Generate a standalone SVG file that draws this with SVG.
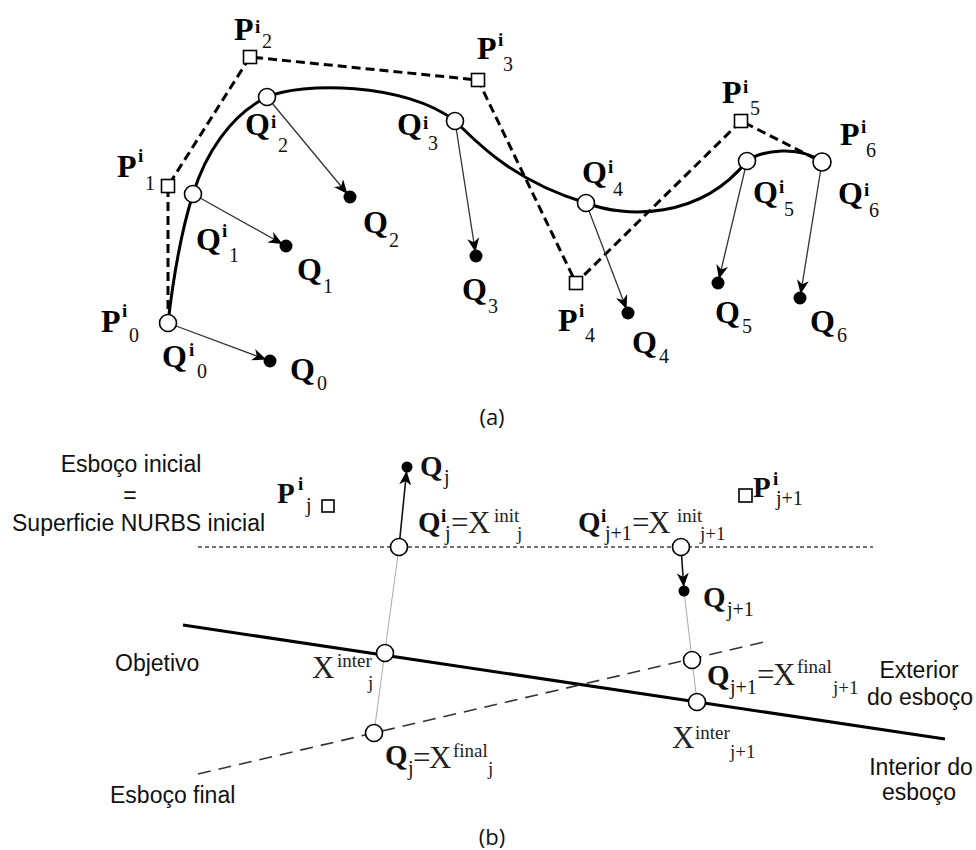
<svg xmlns="http://www.w3.org/2000/svg" width="976" height="850" viewBox="0 0 976 850">
<style>
.poly{fill:none;stroke:#000;stroke-width:3;stroke-dasharray:9 5}
.curve{fill:none;stroke:#000;stroke-width:3}
.arr{stroke:#333;stroke-width:1.3;fill:none;marker-end:url(#ah)}
.arrb{stroke:#111;stroke-width:1.6;fill:none;marker-end:url(#ah)}
.pt{fill:#fff;stroke:#000;stroke-width:1.6}
.sq{fill:#fff;stroke:#000;stroke-width:1.6}
.dot{fill:#000}
.B{font-family:"Liberation Serif","Times New Roman",serif;font-weight:bold;font-size:32px;fill:#000}
.Bb{font-family:"Liberation Serif","Times New Roman",serif;font-weight:bold;font-size:29px;fill:#111}
.sup{font-family:"Liberation Serif","Times New Roman",serif;font-weight:bold;font-size:19px;fill:#000}
.sub{font-family:"Liberation Serif","Times New Roman",serif;font-size:20px;fill:#111}
.R{font-family:"Liberation Serif","Times New Roman",serif;font-size:31px;fill:#222}
.rs{font-family:"Liberation Serif","Times New Roman",serif;font-size:19px;fill:#222}
.S{font-family:"Liberation Sans",Arial,sans-serif;font-size:23px;fill:#111}
.cap{font-family:"Open Sans","Liberation Sans",sans-serif;font-size:22px;fill:#111}
.guide{stroke:#aaa;stroke-width:1;fill:none}
.hdash{stroke:#444;stroke-width:1.3;stroke-dasharray:4 3;fill:none}
.fdash{stroke:#333;stroke-width:1.6;stroke-dasharray:13 8;fill:none}
.obj{stroke:#000;stroke-width:3;fill:none}
</style>
<defs>
<marker id="ah" markerUnits="userSpaceOnUse" markerWidth="16" markerHeight="12" viewBox="0 0 16 12" refX="18" refY="6" orient="auto">
<path d="M0,0 L14,6 L0,12 L4,6 z" fill="#000"/>
</marker>
</defs>
<rect x="0" y="0" width="976" height="850" fill="#fff"/>

<g id="connectors">
  <polyline class="poly" points="168,323 168,186 250,57 478,80 576,283 741,121 822,162"/>
  <path class="curve" d="M168,323 C173,280 180,235 193,194 C205,155 230,115 267,97 C300,82 405,82 455,121 C475,140 510,180 586,203 C625,218 700,220 747,161 C762,150 800,145 822,162"/>
  <line class="arr" x1="168" y1="323" x2="270" y2="361"/>
  <line class="arr" x1="193" y1="194" x2="286" y2="246"/>
  <line class="arr" x1="267" y1="97" x2="350" y2="197"/>
  <line class="arr" x1="455" y1="121" x2="476" y2="256"/>
  <line class="arr" x1="586" y1="203" x2="628" y2="313"/>
  <line class="arr" x1="747" y1="161" x2="718" y2="283"/>
  <line class="arr" x1="822" y1="162" x2="800" y2="298"/>
  <line class="hdash" x1="198" y1="547" x2="873" y2="547"/>
  <line class="obj" x1="183" y1="625" x2="945" y2="739"/>
  <line class="fdash" x1="198" y1="774" x2="768" y2="641"/>
  <line class="guide" x1="399" y1="547" x2="374" y2="733"/>
  <line class="guide" x1="684" y1="591" x2="697" y2="702"/>
  <line class="arrb" x1="399" y1="547" x2="407" y2="467"/>
  <line class="arrb" x1="681" y1="547" x2="684" y2="591"/>
</g>

<g id="P0">
  <circle class="pt" cx="168" cy="323" r="8.5"/>
  <text class="B" x="101" y="332">P</text><text class="sup" x="122" y="317">i</text><text class="sub" x="129" y="342">0</text>
  <text class="B" x="162" y="367">Q</text><text class="sup" x="189" y="356">i</text><text class="sub" x="197" y="378">0</text>
</g>
<g id="P1">
  <rect class="sq" x="161.5" y="179.5" width="13" height="13"/>
  <text class="B" x="117" y="177">P</text><text class="sup" x="138" y="162">i</text><text class="sub" x="145" y="190">1</text>
</g>
<g id="P2">
  <rect class="sq" x="243.5" y="50.5" width="13" height="13"/>
  <text class="B" x="234" y="40">P</text><text class="sup" x="255" y="33">i</text><text class="sub" x="262" y="48">2</text>
</g>
<g id="P3">
  <rect class="sq" x="471.5" y="73.5" width="13" height="13"/>
  <text class="B" x="477" y="59">P</text><text class="sup" x="498" y="46">i</text><text class="sub" x="503" y="71">3</text>
</g>
<g id="P4">
  <rect class="sq" x="569.5" y="276.5" width="13" height="13"/>
  <text class="B" x="558" y="331">P</text><text class="sup" x="579" y="317">i</text><text class="sub" x="585" y="342">4</text>
</g>
<g id="P5">
  <rect class="sq" x="734.5" y="114.5" width="13" height="13"/>
  <text class="B" x="722" y="103">P</text><text class="sup" x="743" y="93">i</text><text class="sub" x="750" y="115">5</text>
</g>
<g id="Qi1">
  <circle class="pt" cx="193" cy="194" r="8.5"/>
  <text class="B" x="196" y="250">Q</text><text class="sup" x="222" y="237">i</text><text class="sub" x="229" y="262">1</text>
</g>
<g id="Qi2">
  <circle class="pt" cx="267" cy="97" r="8.5"/>
  <text class="B" x="245" y="135">Q</text><text class="sup" x="271" y="128">i</text><text class="sub" x="278" y="152">2</text>
</g>
<g id="Qi3">
  <circle class="pt" cx="455" cy="121" r="8.5"/>
  <text class="B" x="397" y="135">Q</text><text class="sup" x="423" y="129">i</text><text class="sub" x="428" y="150">3</text>
</g>
<g id="Qi4">
  <circle class="pt" cx="586" cy="203" r="8.5"/>
  <text class="B" x="582" y="183">Q</text><text class="sup" x="608" y="173">i</text><text class="sub" x="613" y="196">4</text>
</g>
<g id="Qi5">
  <circle class="pt" cx="747" cy="161" r="8.5"/>
  <text class="B" x="753" y="203">Q</text><text class="sup" x="779" y="193">i</text><text class="sub" x="784" y="216">5</text>
</g>
<g id="Qi6">
  <circle class="pt" cx="822" cy="162" r="9"/>
  <text class="B" x="840" y="145">P</text><text class="sup" x="861" y="133">i</text><text class="sub" x="866" y="157">6</text>
  <text class="B" x="838" y="204">Q</text><text class="sup" x="864" y="196">i</text><text class="sub" x="869" y="217">6</text>
</g>
<g id="Q0"><circle class="dot" cx="270" cy="361" r="6.5"/><text class="B" x="290" y="380">Q</text><text class="sub" x="317" y="390">0</text></g>
<g id="Q1"><circle class="dot" cx="286" cy="246" r="6.5"/><text class="B" x="297" y="280">Q</text><text class="sub" x="323" y="293">1</text></g>
<g id="Q2"><circle class="dot" cx="350" cy="197" r="6.5"/><text class="B" x="363" y="233">Q</text><text class="sub" x="389" y="247">2</text></g>
<g id="Q3"><circle class="dot" cx="476" cy="256" r="6.5"/><text class="B" x="462" y="300">Q</text><text class="sub" x="488" y="313">3</text></g>
<g id="Q4"><circle class="dot" cx="628" cy="313" r="6.5"/><text class="B" x="632" y="353">Q</text><text class="sub" x="659" y="363">4</text></g>
<g id="Q5"><circle class="dot" cx="718" cy="283" r="6.5"/><text class="B" x="715" y="323">Q</text><text class="sub" x="742" y="333">5</text></g>
<g id="Q6"><circle class="dot" cx="800" cy="298" r="6.5"/><text class="B" x="810" y="332">Q</text><text class="sub" x="837" y="342">6</text></g>
<text class="cap" x="492" y="425" text-anchor="middle">(a)</text>

<text class="S" x="131" y="472" text-anchor="middle">Esboço inicial</text>
<text class="S" x="130" y="503" text-anchor="middle">=</text>
<text class="S" x="12" y="531">Superficie NURBS inicial</text>
<text class="S" x="115" y="671">Objetivo</text>
<text class="S" x="110" y="803">Esboço final</text>
<text class="S" x="919" y="678" text-anchor="middle">Exterior</text>
<text class="S" x="920" y="705" text-anchor="middle">do esboço</text>
<text class="S" x="921" y="775" text-anchor="middle">Interior do</text>
<text class="S" x="919" y="800" text-anchor="middle">esboço</text>
<text class="cap" x="492" y="845" text-anchor="middle">(b)</text>

<g id="Pj">
  <rect class="sq" x="322" y="500" width="12" height="12"/>
  <text class="Bb" x="277" y="503">P</text><text class="sup" x="298" y="490">i</text><text class="sub" x="306" y="512">j</text>
</g>
<g id="Pj1">
  <rect class="sq" x="739" y="489" width="13" height="13"/>
  <text class="Bb" x="753" y="497">P</text><text class="sup" x="773" y="485">i</text><text class="sub" x="776" y="505">j+1</text>
</g>
<g id="Qj">
  <circle class="dot" cx="407" cy="467" r="5.5"/>
  <text class="Bb" x="420" y="476">Q</text><text class="sub" x="444" y="484">j</text>
</g>
<g id="Qij">
  <circle class="pt" cx="399" cy="547" r="8.5"/>
  <text class="Bb" x="418" y="532">Q</text><text class="sup" x="441" y="522">i</text><text class="sub" x="445" y="540">j</text>
  <text class="R" x="451" y="533">=</text><text class="R" x="468" y="533">X</text><text class="rs" x="494" y="522">init</text><text class="rs" x="517" y="540">j</text>
</g>
<g id="Qij1">
  <circle class="pt" cx="681" cy="547" r="8.5"/>
  <text class="Bb" x="578" y="532">Q</text><text class="sup" x="601" y="522">i</text><text class="sub" x="605" y="540">j+1</text>
  <text class="R" x="632" y="533">=</text><text class="R" x="648" y="533">X</text><text class="rs" x="677" y="522">init</text><text class="rs" x="700" y="540">j+1</text>
</g>
<g id="Qj1">
  <circle class="dot" cx="684" cy="591" r="5.5"/>
  <text class="Bb" x="703" y="607">Q</text><text class="sub" x="727" y="616">j+1</text>
</g>
<g id="Xinterj">
  <circle class="pt" cx="385" cy="653" r="8.5"/>
  <text class="R" x="312" y="678">X</text><text class="rs" x="337" y="667">inter</text><text class="rs" x="368" y="689">j</text>
</g>
<g id="Qjfinal">
  <circle class="pt" cx="374" cy="733" r="8.5"/>
  <text class="Bb" x="385" y="765">Q</text><text class="sub" x="408" y="775">j</text>
  <text class="R" x="413" y="768">=</text><text class="R" x="429" y="768">X</text><text class="rs" x="453" y="757">final</text><text class="rs" x="488" y="775">j</text>
</g>
<g id="Qj1final">
  <circle class="pt" cx="692" cy="660" r="8.5"/>
  <text class="Bb" x="707" y="685">Q</text><text class="sub" x="730" y="694">j+1</text>
  <text class="R" x="757" y="685">=</text><text class="R" x="773" y="685">X</text><text class="rs" x="797" y="673">final</text><text class="rs" x="833" y="694">j+1</text>
</g>
<g id="Xinterj1">
  <circle class="pt" cx="697" cy="702" r="8.5"/>
  <text class="R" x="672" y="748">X</text><text class="rs" x="695" y="739">inter</text><text class="rs" x="730" y="758">j+1</text>
</g>
</svg>
